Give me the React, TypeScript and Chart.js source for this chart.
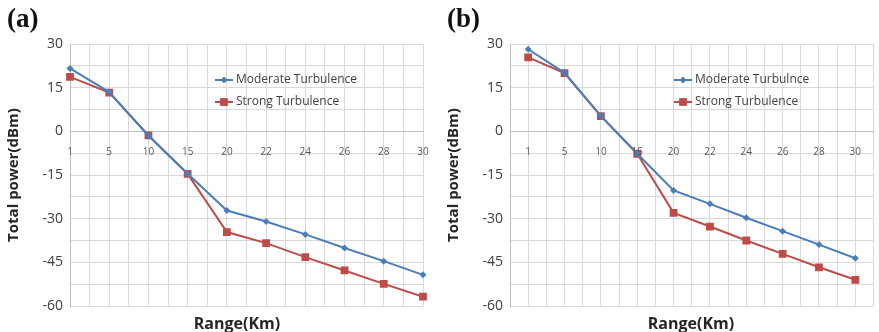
import React, { useEffect, useRef } from 'react';
import { Chart, registerables } from 'chart.js';
import { drawPoint } from 'chart.js/helpers';

Chart.register(...registerables);

const ranges = ['1', '5', '10', '15', '20', '22', '24', '26', '28', '30'];
const moderateA = [21.6, 13.5, -1.5, -14.6, -27.2, -31.0, -35.4, -40.1, -44.6, -49.3];
const strongA = [18.7, 13.3, -1.4, -14.6, -34.6, -38.4, -43.2, -47.8, -52.4, -56.8];
const moderateB = [28.2, 20.1, 5.3, -7.7, -20.3, -24.9, -29.7, -34.3, -38.9, -43.6];
const strongB = [25.4, 20.0, 5.2, -7.7, -28.0, -32.7, -37.5, -42.1, -46.7, -51.0];
const yTicks = [-60, -45, -30, -15, 0, 15, 30];
const namesA = ['Moderate Turbulence', 'Strong Turbulence'];
const namesB = ['Moderate Turbulnce', 'Strong Turbulence'];
const panelLabels = ['(a)', '(b)'];
const yTitle = 'Total power(dBm)';
const xTitle = 'Range(Km)';

const BLUE = '#4a7ebb';
const RED = '#be4b48';
const GRID = '#d9d9d9';
const SANS = "'Open Sans', 'Liberation Sans', sans-serif";

const legendPlugin = {
  id: 'inlineLegend',
  afterDatasetsDraw(chart: any, _args: any, opts: any) {
    const ctx = chart.ctx;
    chart.data.datasets.forEach((ds: any, i: number) => {
      const y = opts.y + i * opts.gap;
      ctx.save();
      ctx.strokeStyle = ds.borderColor;
      ctx.lineWidth = 2;
      ctx.beginPath();
      ctx.moveTo(opts.x, y);
      ctx.lineTo(opts.x + 18, y);
      ctx.stroke();
      ctx.fillStyle = ds.backgroundColor;
      drawPoint(ctx, { pointStyle: ds.pointStyle, radius: ds.pointRadius, borderWidth: 0, rotation: 0 }, opts.x + 9, y);
      ctx.fillStyle = '#404040';
      ctx.font = `12px ${SANS}`;
      ctx.textBaseline = 'middle';
      ctx.textAlign = 'left';
      ctx.fillText(ds.label, opts.x + 21, y);
      ctx.restore();
    });
  },
};

function Panel({ mod, str, names, offset, rightPad, legendX, width }: any) {
  const ref = useRef<HTMLCanvasElement>(null);
  useEffect(() => {
    const chart = new Chart(ref.current as HTMLCanvasElement, {
      type: 'line',
      data: {
        labels: ranges,
        datasets: [
          {
            label: names[0], data: mod, borderColor: BLUE, backgroundColor: BLUE,
            borderWidth: 2, pointStyle: 'rectRot', pointRadius: 3.5, pointBorderWidth: 0, tension: 0,
          },
          {
            label: names[1], data: str, borderColor: RED, backgroundColor: RED,
            borderWidth: 2, pointStyle: 'rect', pointRadius: 5.5, pointBorderWidth: 0, tension: 0,
          },
        ],
      },
      options: {
        responsive: false,
        animation: false,
        layout: { padding: { left: 0, right: rightPad, top: 44, bottom: 26 } },
        plugins: {
          legend: { display: false },
          tooltip: { enabled: false },
          inlineLegend: { x: legendX, y: 80, gap: 22 },
        } as any,
        scales: {
          x: {
            type: 'category',
            offset,
            position: { y: 0 } as any,
            grid: { display: false },
            border: { display: true, color: '#bfbfbf', width: 1 },
            ticks: { z: 2, font: { size: 10, family: SANS }, color: '#595959', padding: 7, autoSkip: false, maxRotation: 0 },
          },
          xg: {
            type: 'linear',
            position: 'bottom',
            min: 0,
            max: offset ? ranges.length * 2 : (ranges.length - 1) * 2,
            ticks: { display: false, stepSize: 1 },
            grid: { color: GRID, drawTicks: false },
            border: { display: false },
            afterFit: (s: any) => { s.height = 0; },
          },
          y: {
            type: 'linear',
            min: -60,
            max: 30,
            grid: { color: GRID, drawTicks: false },
            border: { display: true, color: '#bfbfbf' },
            ticks: {
              stepSize: 7.5,
              padding: 7,
              font: { size: 14, family: SANS },
              color: '#404040',
              callback: (v: any) => (yTicks.includes(Number(v)) ? String(v) : ''),
            },
            title: {
              display: true,
              text: yTitle,
              font: { size: 15, weight: 'bold', family: SANS },
              color: '#262626',
              padding: { top: 5, bottom: 0 },
            },
            afterFit: (s: any) => { s.width = 70; },
          },
        },
      },
      plugins: [legendPlugin],
    } as any);
    return () => chart.destroy();
  }, []);
  return <canvas ref={ref} width={width} height={332} style={{ display: 'block', width, height: 332 }} />;
}

export default function App() {
  const label = (t: string, left: number) => (
    <div style={{ position: 'absolute', left, top: 3, font: "bold 27px 'Liberation Serif', serif", color: '#111' }}>{t}</div>
  );
  const xt = (cx: number) => (
    <div style={{ position: 'absolute', left: cx - 60, width: 120, top: 312, textAlign: 'center', font: `bold 16px ${SANS}`, color: '#262626' }}>{xTitle}</div>
  );
  return (
    <div style={{ position: 'fixed', left: 0, top: 0, width: 879, height: 332, background: '#fff', overflow: 'hidden' }}>
      <div style={{ position: 'absolute', left: 0, top: 0 }}>
        <Panel mod={moderateA} str={strongA} names={namesA} offset={false} rightPad={17} legendX={215} width={440} />
      </div>
      <div style={{ position: 'absolute', left: 440, top: 0 }}>
        <Panel mod={moderateB} str={strongB} names={namesB} offset={true} rightPad={3} legendX={234} width={439} />
      </div>
      {label(panelLabels[0], 7)}
      {label(panelLabels[1], 447)}
      {xt(237)}
      {xt(691)}
    </div>
  );
}
